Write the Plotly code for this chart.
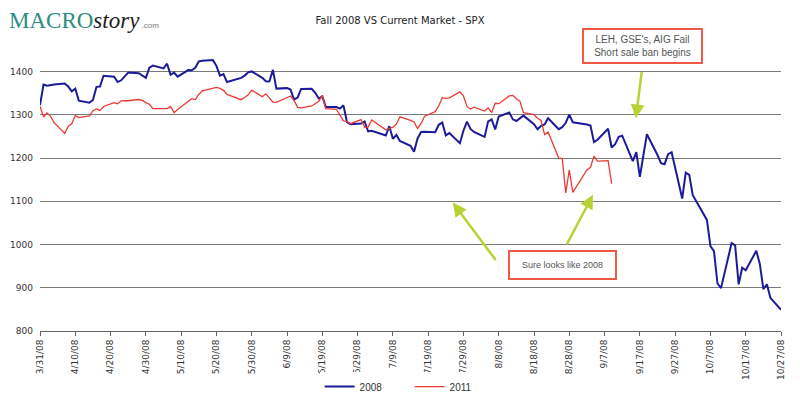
import pandas as pd
import plotly.graph_objects as go

# trading days of spring/fall 2008 (x axis dates)
days_2008 = [
    "3/31", "4/1", "4/2", "4/3", "4/4", "4/7", "4/8", "4/9", "4/10", "4/11",
    "4/14", "4/15", "4/16", "4/17", "4/18", "4/21", "4/22", "4/23", "4/24", "4/25",
    "4/28", "4/29", "4/30", "5/1", "5/2", "5/5", "5/6", "5/7", "5/8", "5/9",
    "5/12", "5/13", "5/14", "5/15", "5/16", "5/19", "5/20", "5/21", "5/22", "5/23",
    "5/27", "5/28", "5/29", "5/30", "6/2", "6/3", "6/4", "6/5", "6/6",
    "6/9", "6/10", "6/11", "6/12", "6/13", "6/16", "6/17", "6/18", "6/19", "6/20",
    "6/23", "6/24", "6/25", "6/26", "6/27", "6/30", "7/1", "7/2", "7/3",
    "7/7", "7/8", "7/9", "7/10", "7/11", "7/14", "7/15", "7/16", "7/17", "7/18",
    "7/21", "7/22", "7/23", "7/24", "7/25", "7/28", "7/29", "7/30", "7/31", "8/1",
    "8/4", "8/5", "8/6", "8/7", "8/8", "8/11", "8/12", "8/13", "8/14", "8/15",
    "8/18", "8/19", "8/20", "8/21", "8/22", "8/25", "8/26", "8/27", "8/28", "8/29",
    "9/2", "9/3", "9/4", "9/5", "9/8", "9/9", "9/10", "9/11", "9/12",
    "9/15", "9/16", "9/17", "9/18", "9/19", "9/22", "9/23", "9/24", "9/25", "9/26",
    "9/29", "9/30", "10/1", "10/2", "10/3", "10/6", "10/7", "10/8", "10/9", "10/10",
    "10/13", "10/14", "10/15", "10/16", "10/17", "10/20", "10/21", "10/22", "10/23", "10/24",
    "10/27",
]

# SPX closes 2008
spx_2008 = [
    1322.7, 1370.2, 1367.5, 1369.3, 1370.4, 1372.5, 1365.5, 1354.5, 1360.6, 1332.8,
    1328.3, 1334.4, 1364.7, 1365.6, 1390.3, 1388.2, 1375.9, 1379.9, 1388.8, 1397.8,
    1396.4, 1390.9, 1385.6, 1409.3, 1413.9, 1407.5, 1418.3, 1392.6, 1397.7, 1388.3,
    1403.6, 1403.0, 1408.7, 1423.6, 1425.4, 1426.6, 1413.4, 1390.7, 1394.4, 1375.9,
    1385.4, 1390.8, 1398.3, 1400.4, 1385.7, 1377.7, 1377.2, 1404.1, 1360.7,
    1361.8, 1358.4, 1335.5, 1339.9, 1360.0, 1360.1, 1350.9, 1337.8, 1342.8, 1317.9,
    1318.0, 1314.3, 1322.0, 1283.2, 1278.4, 1280.0, 1284.9, 1261.5, 1262.9,
    1252.3, 1273.7, 1244.7, 1253.4, 1239.5, 1228.3, 1214.9, 1245.4, 1260.3, 1260.7,
    1260.0, 1277.0, 1282.2, 1252.5, 1257.8, 1234.4, 1263.2, 1284.3, 1267.4, 1260.3,
    1249.0, 1284.9, 1289.2, 1266.1, 1296.3, 1305.3, 1289.6, 1285.8, 1292.9, 1298.2,
    1278.6, 1266.7, 1274.5, 1277.7, 1292.2, 1266.8, 1271.5, 1281.7, 1300.7, 1282.8,
    1277.6, 1275.0, 1236.8, 1242.3, 1267.8, 1224.5, 1232.0, 1249.1, 1251.7,
    1192.7, 1213.6, 1156.4, 1206.5, 1255.1, 1207.1, 1188.2, 1185.9, 1209.2, 1213.3,
    1106.4, 1166.4, 1161.1, 1114.3, 1099.2, 1056.9, 996.2, 984.9, 909.9, 899.2,
    1003.4, 998.0, 907.8, 946.4, 940.6, 985.4, 955.1, 896.8, 908.1, 876.8,
    848.9,
]

# SPX closes 2011 (3/9/11 onward), lined up day by day with 2008
spx_2011 = [
    1320.0, 1295.1, 1304.3, 1296.4, 1281.9, 1256.9, 1273.7, 1279.2, 1298.4, 1293.8,
    1297.5, 1309.7, 1313.8, 1310.2, 1319.4, 1328.3, 1325.8, 1332.4, 1332.9, 1332.6,
    1335.5, 1333.5, 1328.2, 1324.5, 1314.2, 1314.4, 1314.5, 1319.7, 1305.1, 1312.6,
    1330.4, 1337.4, 1335.3, 1347.2, 1355.7, 1360.5, 1363.6, 1361.2, 1356.6, 1347.3,
    1335.1, 1340.2, 1346.3, 1357.2, 1342.1, 1348.7, 1337.8, 1329.5, 1329.0, 1340.7,
    1343.6, 1333.3, 1317.4, 1316.3, 1320.5, 1325.7, 1331.1, 1345.2, 1314.6, 1312.9,
    1300.2, 1286.2, 1284.9, 1279.6, 1289.0, 1271.0, 1271.8, 1287.9, 1265.4, 1267.6,
    1271.5, 1278.4, 1295.5, 1287.1, 1283.5, 1268.5, 1280.1, 1296.7, 1307.4, 1320.6,
    1339.7, 1337.9, 1339.2, 1353.2, 1343.8, 1319.5, 1313.6, 1317.7, 1308.9, 1316.1,
    1305.4, 1326.7, 1325.8, 1343.8, 1345.0, 1337.4, 1331.9, 1304.9, 1300.7, 1292.3,
    1286.9, 1254.1, 1260.3, 1200.1, 1199.4, 1119.5, 1172.5, 1120.8, 1172.6, 1178.8,
    1204.5, 1192.8, 1193.9, 1140.7,
]

# x axis ticks every 10 days
tick_dates = pd.date_range("2008-03-31", "2008-10-27", freq="10D")

dates = pd.to_datetime([d + "/2008" for d in days_2008], format="%m/%d/%Y")

fig = go.Figure()

fig.add_trace(go.Scatter(
    x=dates,
    y=spx_2008,
    mode="lines",
    name="2008",
    line=dict(color="#1C1C9A", width=2),
))

fig.add_trace(go.Scatter(
    x=dates[:len(spx_2011)],
    y=spx_2011,
    mode="lines",
    name="2011",
    line=dict(color="#EC3A34", width=1.3),
))

box_text = dict(family="Liberation Sans, Arial, sans-serif", color="#555555")
arrow_green = "#B7D233"

fig.update_layout(
    width=800,
    height=413,
    margin=dict(l=40, r=19, t=50, b=70),
    paper_bgcolor="white",
    plot_bgcolor="white",
    font=dict(family="DejaVu Sans, Verdana, sans-serif", size=9, color="#333333"),
    title=dict(
        text="Fall 2008 VS Current Market - SPX",
        xref="container", x=0.5, xanchor="center",
        y=1 - 20 / 413, yanchor="middle",
        font=dict(family="DejaVu Sans, Verdana, sans-serif", size=10, color="#222222"),
    ),
    xaxis=dict(
        type="date",
        range=["2008-03-31", "2008-10-27"],
        tickvals=tick_dates,
        tickformat="%-m/%-d/%y",
        tickangle=-90,
        ticks="outside",
        ticklen=4,
        tickcolor="#666666",
        showgrid=False,
        showline=True,
        linecolor="#666666",
        linewidth=1,
        zeroline=False,
        automargin=False,
        tickfont=dict(size=9, color="#333333"),
    ),
    yaxis=dict(
        range=[800, 1450],
        tickvals=[800, 900, 1000, 1100, 1200, 1300, 1400],
        showgrid=True,
        gridcolor="#7A7A7A",
        gridwidth=1,
        zeroline=False,
        showline=False,
        ticks="",
        ticklabelstandoff=6,
        automargin=False,
        tickfont=dict(size=9, color="#333333"),
    ),
    showlegend=True,
    legend=dict(
        orientation="h",
        x=0.4988, xanchor="center",
        y=-(401 - 343) / 293, yanchor="middle",
        itemwidth=30,
        entrywidth=45,
        font=dict(family="Liberation Sans Narrow, Liberation Sans, sans-serif", size=10, color="#333333"),
    ),
)

# logo
fig.add_annotation(
    xref="paper", yref="paper",
    x=(7 - 40) / 741, xanchor="left",
    y=(343 - 19) / 293, yanchor="middle",
    showarrow=False,
    text=("<span style='color:#2B8C82'>MACRO</span>"
          "<span style='font-style:italic;color:#1E1E1E'>story</span>"
          "<span style='font-family:Liberation Sans;font-size:8px;color:#777777'> .com</span>"),
    font=dict(family="Liberation Serif, Times New Roman, serif", size=23),
)

# callout boxes
fig.add_annotation(
    xref="paper", yref="paper",
    x=(642.5 - 40) / 741, y=(343 - 46) / 293,
    xanchor="center", yanchor="middle",
    showarrow=False,
    text="LEH, GSE's, AIG Fail<br>Short sale ban begins",
    font=dict(size=10, **box_text),
    align="center",
    width=113, height=28,
    bgcolor="white", bordercolor="#F05A45", borderwidth=2, borderpad=2,
)
fig.add_annotation(
    xref="paper", yref="paper",
    x=(562.5 - 40) / 741, y=(343 - 274) / 293,
    xanchor="center", yanchor="middle",
    showarrow=False,
    text="Sure looks like 2008",
    font=dict(size=9, **box_text),
    width=101, height=22,
    bgcolor="white", bordercolor="#F05A45", borderwidth=2, borderpad=2,
)

# green arrows (tip in data coords, tail offset in px)
arrows = [
    ("2008-09-15 21:00", 1292, 6, -48),
    ("2008-07-26 00:00", 1097, 44, 59),
    ("2008-09-03 17:00", 1115, -27, 51),
]
for ax_date, ay_val, dx, dy in arrows:
    fig.add_annotation(
        x=ax_date, y=ay_val, ax=dx, ay=dy,
        text="", showarrow=True,
        arrowhead=2, arrowsize=1.1, arrowwidth=2.5,
        arrowcolor=arrow_green,
    )

fig.write_html("out.html", config={"displayModeBar": False})

# drop the browser's default 8px body margin so the figure sits at 0,0
with open("out.html", encoding="utf-8") as f:
    page = f.read()
page = page.replace("<head>", "<head><style>html,body{margin:0;padding:0;overflow:hidden}</style>", 1)
with open("out.html", "w", encoding="utf-8") as f:
    f.write(page)
